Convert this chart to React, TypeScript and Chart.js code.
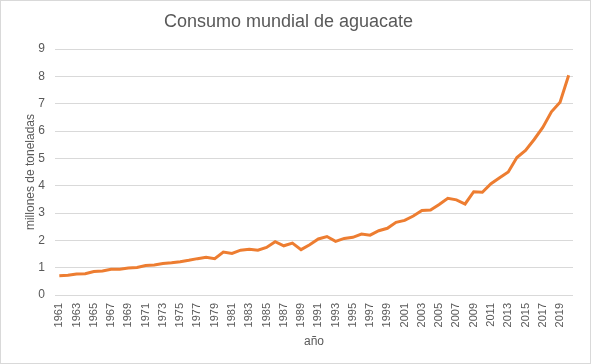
import React, { useEffect, useRef } from "react";
import { Chart, registerables } from "chart.js";

Chart.register(...registerables);

const years: string[] = [];
for (let y = 1961; y <= 2020; y++) years.push(String(y));

const consumo: number[] = [
  0.70, 0.72, 0.77, 0.78, 0.86, 0.88, 0.94, 0.94, 0.99, 1.01,
  1.08, 1.10, 1.15, 1.18, 1.22, 1.27, 1.33, 1.38, 1.33, 1.57,
  1.52, 1.64, 1.67, 1.64, 1.74, 1.95, 1.80, 1.90, 1.66, 1.84,
  2.05, 2.14, 1.96, 2.07, 2.11, 2.23, 2.19, 2.35, 2.44, 2.66,
  2.73, 2.89, 3.09, 3.11, 3.31, 3.54, 3.48, 3.33, 3.78, 3.76,
  4.07, 4.29, 4.50, 5.03, 5.29, 5.69, 6.13, 6.70, 7.05, 8.04,
];

const FONT = "'Liberation Sans', Arial, sans-serif";
const GREY = "#595959";

export default function App() {
  const ref = useRef<HTMLCanvasElement>(null);
  useEffect(() => {
    document.body.style.margin = "0";
    const chart = new Chart(ref.current!, {
      type: "line",
      data: {
        labels: years,
        datasets: [
          {
            label: "Consumo",
            data: consumo,
            borderColor: "#ED7D31",
            backgroundColor: "#ED7D31",
            borderWidth: 3,
            pointRadius: 0,
            tension: 0,
          },
        ],
      },
      options: {
        animation: false,
        responsive: false,
        maintainAspectRatio: false,
        layout: { padding: { left: 0, right: 14, top: 0, bottom: 0 } },
        plugins: {
          legend: { display: false },
          tooltip: { enabled: false },
          title: {
            display: true,
            text: "Consumo mundial de aguacate",
            color: GREY,
            font: { family: FONT, size: 18, weight: "normal" },
            padding: { top: 10, bottom: 16.4 },
          },
        },
        scales: {
          x: {
            offset: true,
            grid: { display: false, drawTicks: false },
            border: { display: false },
            ticks: {
              color: GREY,
              font: { family: FONT, size: 11 },
              autoSkip: false,
              maxRotation: 90,
              minRotation: 90,
              padding: 8,
              callback: function (_v: any, i: number) {
                return i % 2 === 0 ? years[i] : "";
              },
            },
            title: {
              display: true,
              text: "año",
              color: GREY,
              font: { family: FONT, size: 12 },
              padding: { top: 4, bottom: 14 },
            },
            afterFit: (s: any) => {
              s.height = 68;
            },
          },
          y: {
            min: 0,
            max: 9,
            grid: { color: "#d9d9d9", lineWidth: 1, drawTicks: false },
            border: { display: false },
            ticks: {
              stepSize: 1,
              color: GREY,
              font: { family: FONT, size: 12 },
              padding: 10,
            },
            title: {
              display: true,
              text: "millones de toneladas",
              color: GREY,
              font: { family: FONT, size: 12 },
              padding: { top: 22, bottom: 0 },
            },
            afterFit: (s: any) => {
              s.width = 54;
            },
          },
        },
      },
    });
    return () => chart.destroy();
  }, []);
  return (
    <div
      style={{
        position: "fixed",
        left: 0,
        top: 0,
        width: 591,
        height: 364,
        boxSizing: "border-box",
        border: "1px solid #d9d9d9",
        background: "#fff",
      }}
    >
      <canvas ref={ref} width={589} height={362} style={{ display: "block" }} />
    </div>
  );
}
